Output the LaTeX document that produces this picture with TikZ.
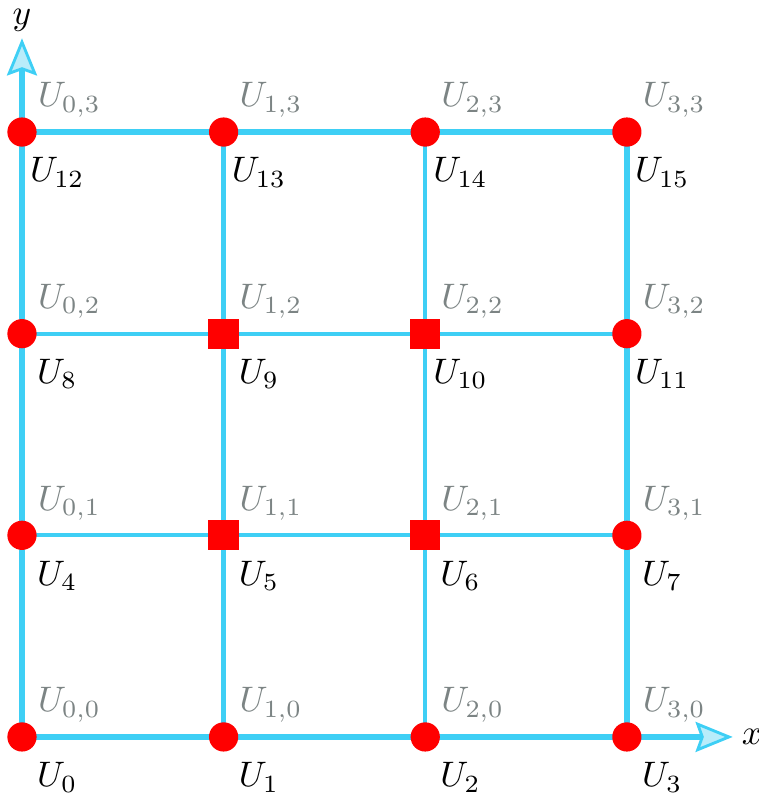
\documentclass[tikz,border=0pt]{standalone}
\usetikzlibrary{arrows.meta}
\definecolor{gridcyan}{RGB}{62,207,245}
\definecolor{tipfill}{RGB}{185,236,250}
\definecolor{lblgray}{RGB}{124,132,132}
\begin{document}
\begin{tikzpicture}[
  outerline/.style={draw=gridcyan, line width=1.7pt},
  innerline/.style={draw=gridcyan, line width=1.2pt},
  axisline/.style={outerline, -{Stealth[length=10.5pt,width=8.5pt,inset=1.5pt,fill=tipfill,line width=0.8pt]}},
  dot/.style={circle, fill=red, inner sep=0pt, minimum size=0.29cm},
  sq/.style={rectangle, fill=red, inner sep=0pt, minimum size=0.30cm},
  idx/.style={text=black, inner sep=0pt},
  ij/.style={text=lblgray, inner sep=0pt}
]
\useasboundingbox (-0.218,-0.556) rectangle (7.31,7.31);
\foreach \i in {0,...,3} \foreach \j in {0,...,3} \coordinate (g\i\j) at (2*\i,2*\j);
\coordinate (xtip) at (7.05,0);
\coordinate (ytip) at (0,6.93);
% inner grid lines
\draw[innerline] (g01) -- (g31);
\draw[innerline] (g02) -- (g32);
\draw[innerline] (g10) -- (g13);
\draw[innerline] (g20) -- (g23);
% outer boundary
\draw[outerline, line join=miter] (g03) -- (g33) -- (g30);
\draw[axisline] (g00) -- (xtip);
\draw[axisline] (g00) -- (ytip);
% nodes
\foreach \i/\j in {0/0,1/0,2/0,3/0,0/1,3/1,0/2,3/2,0/3,1/3,2/3,3/3}
  \node[dot] (n\i\j) at (g\i\j) {};
\foreach \i/\j in {1/1,2/1,1/2,2/2}
  \node[sq] (n\i\j) at (g\i\j) {};
% labels
\foreach \i in {0,...,3} \foreach \j in {0,...,3} {
  \pgfmathtruncatemacro\k{\i+4*\j}
  \node[idx] (b\i\j) at ([shift={(0.35,-0.4)}]g\i\j) {$U_{\k}$};
  \node[ij] (a\i\j) at ([shift={(0.47,0.32)}]g\i\j) {$U_{\i,\j}$};
}
\node[inner sep=0pt] (xl) at (7.24,0) {$x$};
\node[inner sep=0pt] (yl) at (0,7.11) {$y$};
\end{tikzpicture}
\end{document}
